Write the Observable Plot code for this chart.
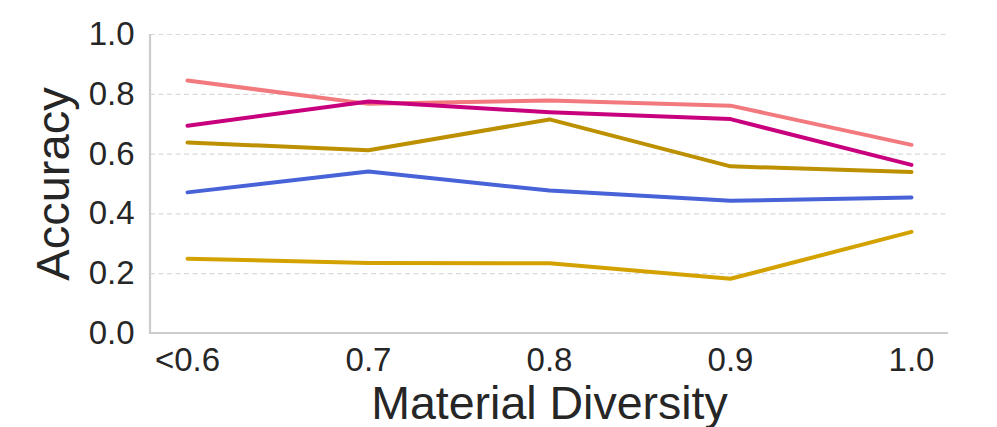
<!DOCTYPE html>
<html>
<head>
<meta charset="utf-8">
<script src="https://cdn.jsdelivr.net/npm/d3@7"></script>
<script src="https://cdn.jsdelivr.net/npm/@observablehq/plot@0.6"></script>
<style>
  html, body { margin: 0; padding: 0; background: #fff; }
  #chart svg { display: block; font-family: "Liberation Sans", Arial, sans-serif; }
</style>
</head>
<body>
<div id="chart"></div>
<script>
// ---- data ----
const categories = ["<0.6", "0.7", "0.8", "0.9", "1.0"];
const seriesNames = ["Series 1", "Series 2", "Series 3", "Series 4", "Series 5"];
const series1 = [0.250, 0.236, 0.235, 0.183, 0.340]; // gold
const series2 = [0.472, 0.542, 0.478, 0.444, 0.455]; // blue
const series3 = [0.639, 0.613, 0.716, 0.559, 0.540]; // dark gold
const series4 = [0.846, 0.768, 0.779, 0.762, 0.631]; // salmon
const series5 = [0.695, 0.776, 0.740, 0.717, 0.564]; // magenta
const seriesColors = ["#D4A200", "#4862D8", "#BC9000", "#F27A7E", "#C8007E"];
const yTicks = [0, 0.2, 0.4, 0.6, 0.8, 1.0];

const allSeries = [series1, series2, series3, series4, series5];
const rows = [];
allSeries.forEach((vals, si) => {
  vals.forEach((v, ci) => rows.push({series: seriesNames[si], category: categories[ci], value: v}));
});

const textColor = "#262626";
const spineColor = "#cccccc";

// spines drawn from the plot's own frame dimensions
function spines(index, scales, values, dims) {
  const g = d3.create("svg:g");
  const x0 = dims.marginLeft, x1 = dims.width - dims.marginRight;
  const y0 = dims.marginTop, y1 = dims.height - dims.marginBottom;
  g.append("line").attr("x1", x0).attr("x2", x0).attr("y1", y0).attr("y2", y1 + 1)
    .attr("stroke", spineColor).attr("stroke-width", 2.2);
  g.append("line").attr("x1", x0 - 1).attr("x2", x1).attr("y1", y1).attr("y2", y1)
    .attr("stroke", spineColor).attr("stroke-width", 2.2);
  return g.node();
}

const chart = Plot.plot({
  width: 997,
  height: 427,
  marginLeft: 150,
  marginRight: 49,
  marginTop: 34,
  marginBottom: 94,
  style: {fontFamily: "'Liberation Sans', Arial, sans-serif", color: textColor, background: "#fff"},
  x: {type: "point", domain: categories, padding: 0.2, align: 0.5},
  y: {domain: [0, 1]},
  color: {domain: seriesNames, range: seriesColors},
  marks: [
    Plot.gridY(yTicks, {stroke: "#d9d9d9", strokeOpacity: 1, strokeWidth: 1.2, strokeDasharray: "5,3.5"}),
    Plot.axisY(yTicks, {tickSize: 0, tickPadding: 16, fontSize: 33, label: null, tickFormat: d => d.toFixed(1), fill: textColor}),
    Plot.axisX({tickSize: 0, tickPadding: 14, fontSize: 33, label: null, fill: textColor}),
    Plot.text(["Accuracy"], {frameAnchor: "left", dx: -97, rotate: -90, fontSize: 47, fill: textColor, lineAnchor: "middle", textAnchor: "middle"}),
    Plot.text(["Material Diversity"], {frameAnchor: "bottom", dy: 85, fontSize: 46.5, fill: textColor, lineAnchor: "bottom", textAnchor: "middle"}),
    spines,
    Plot.line(rows, {x: "category", y: "value", z: "series", stroke: "series", strokeWidth: 4, strokeLinecap: "round", strokeLinejoin: "round"})
  ]
});

document.getElementById("chart").appendChild(chart);
</script>
</body>
</html>
